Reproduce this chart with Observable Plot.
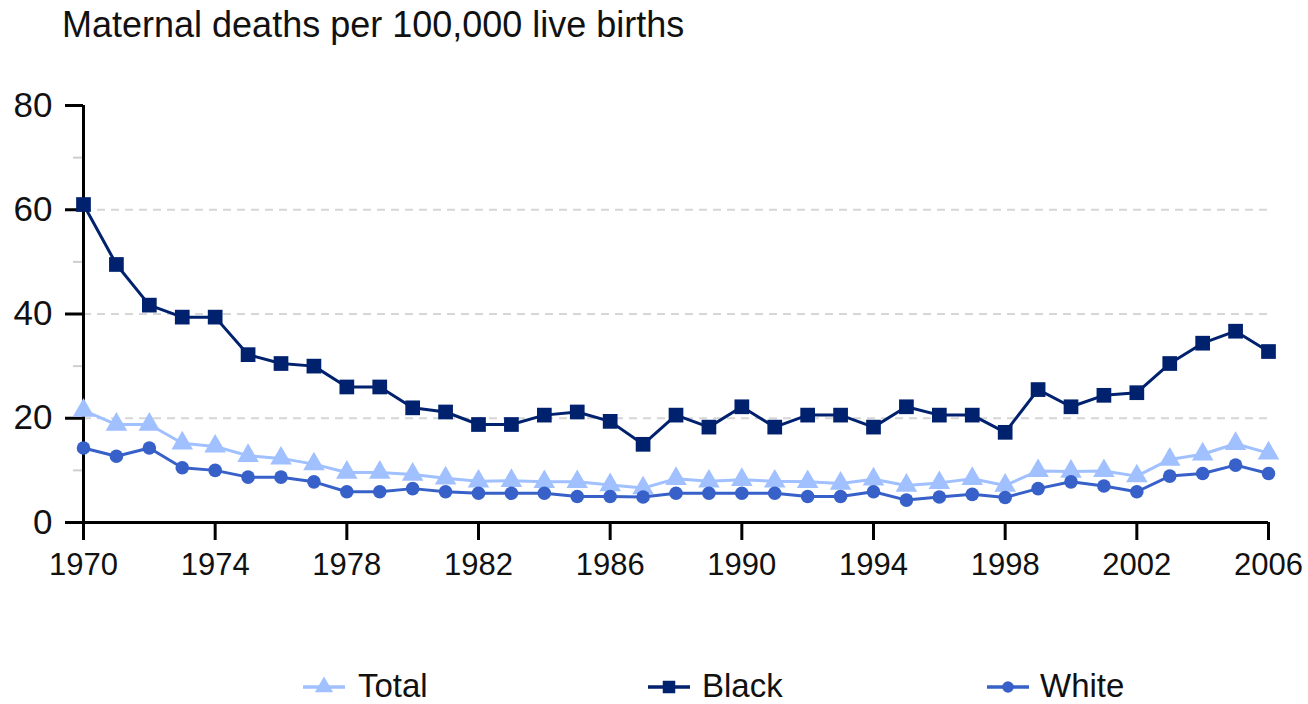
<!DOCTYPE html>
<html>
<head>
<meta charset="utf-8">
<script src="https://cdn.jsdelivr.net/npm/d3@7"></script>
<script src="https://cdn.jsdelivr.net/npm/@observablehq/plot@0.6"></script>
<style>
  html, body { margin: 0; padding: 0; background: #fff; }
  #wrap { position: relative; width: 1308px; height: 704px; overflow: hidden; font-family: "Liberation Sans", Arial, sans-serif; }
  #title { position: absolute; left: 62px; top: 7px; font-size: 36px; line-height: 36px; color: #111; white-space: nowrap; }
  #chart { position: absolute; left: 0; top: 0; }
  .leg { position: absolute; top: 670px; height: 32px; font-size: 33px; line-height: 32px; color: #111; white-space: nowrap; }
  .legsw { position: absolute; top: 671px; }
</style>
</head>
<body>
<div id="wrap">
  <div id="chart"></div>
  <div id="title">Maternal deaths per 100,000 live births</div>
  <div id="legend"></div>
</div>
<script>
const years = [1970,1971,1972,1973,1974,1975,1976,1977,1978,1979,1980,1981,1982,1983,1984,1985,1986,1987,1988,1989,1990,1991,1992,1993,1994,1995,1996,1997,1998,1999,2000,2001,2002,2003,2004,2005,2006];
const totalValues = [21.5,18.8,18.8,15.2,14.6,12.8,12.3,11.2,9.6,9.6,9.2,8.5,7.9,8.0,7.8,7.8,7.2,6.6,8.4,7.9,8.2,7.9,7.8,7.5,8.3,7.1,7.6,8.4,7.1,9.9,9.8,9.9,8.9,12.1,13.1,15.1,13.3];
const blackValues = [61.0,49.5,41.7,39.4,39.4,32.2,30.5,30.0,26.0,26.0,22.0,21.2,18.8,18.8,20.6,21.2,19.4,15.0,20.6,18.3,22.2,18.3,20.6,20.6,18.3,22.2,20.6,20.6,17.3,25.5,22.2,24.4,24.9,30.5,34.4,36.7,32.8];
const whiteValues = [14.3,12.7,14.3,10.5,10.0,8.7,8.7,7.8,5.9,5.9,6.5,5.9,5.6,5.6,5.6,5.0,5.0,4.9,5.6,5.6,5.6,5.6,5.0,5.0,5.9,4.3,4.9,5.4,4.8,6.5,7.8,7.0,5.9,8.9,9.4,11.0,9.4];
const seriesNames = ["Total", "Black", "White"];
const xTicks = [1970,1974,1978,1982,1986,1990,1994,1998,2002,2006];
const yMajorTicks = [0,20,40,60,80];
const yMinorTicks = [10,30,50,70];
const gridValues = [20,40,60];

const colors = { Total: "#a0c0ff", Black: "#00216e", White: "#3761c8" };
const symbols = { Total: "triangle", Black: "square", White: "circle" };
const radii = { Total: 8.0, Black: 8.3, White: 6.8 };

const valuesBySeries = { Total: totalValues, Black: blackValues, White: whiteValues };
const rows = seriesNames.flatMap(s => years.map((yr, i) => ({ series: s, year: yr, value: valuesBySeries[s][i] })));

const seriesMarks = seriesNames.flatMap(s => {
  const d = rows.filter(r => r.series === s);
  return [
    Plot.line(d, { x: "year", y: "value", stroke: colors[s], strokeWidth: 3 }),
    Plot.dot(d, { x: "year", y: "value", fill: colors[s], stroke: "none", symbol: symbols[s], r: radii[s] })
  ];
});

const chart = Plot.plot({
  width: 1308,
  height: 704,
  marginTop: 105,
  marginBottom: 182,
  marginLeft: 83,
  marginRight: 40,
  style: { fontFamily: "'Liberation Sans', Arial, sans-serif", color: "#111", background: "transparent" },
  x: { domain: [1970, 2006], label: null },
  y: { domain: [0, 80], label: null },
  marks: [
    Plot.ruleY(gridValues, { stroke: "#d6d6d6", strokeWidth: 2, strokeDasharray: "8,6" }),
    Plot.axisY({ ticks: yMinorTicks, tickSize: 10, stroke: "#cfcfcf", strokeWidth: 2, tickFormat: () => "", label: null }),
    Plot.axisY({ ticks: yMajorTicks, tickSize: 18, tickPadding: 13, strokeWidth: 3, stroke: "#000", fontSize: 35, fill: "#111", label: null }),
    Plot.axisX({ ticks: xTicks, tickSize: 18, tickPadding: 12, strokeWidth: 3, stroke: "#000", fontSize: 31, fill: "#111", tickFormat: "d", label: null }),
    Plot.ruleX([1970], { y1: 0, y2: 80, stroke: "#000", strokeWidth: 3 }),
    Plot.ruleY([0], { stroke: "#000", strokeWidth: 3 }),
    ...seriesMarks
  ]
});
document.getElementById("chart").appendChild(chart);

// Legend
const legendPos = { Total: { sw: 303, tx: 358 }, Black: { sw: 648, tx: 702 }, White: { sw: 987, tx: 1040 } };
const legend = document.getElementById("legend");
seriesNames.forEach(s => {
  const sw = document.createElementNS("http://www.w3.org/2000/svg", "svg");
  sw.setAttribute("width", 44);
  sw.setAttribute("height", 32);
  sw.setAttribute("class", "legsw");
  sw.style.left = legendPos[s].sw + "px";
  const line = document.createElementNS("http://www.w3.org/2000/svg", "line");
  line.setAttribute("x1", 0); line.setAttribute("x2", 42);
  line.setAttribute("y1", 16); line.setAttribute("y2", 16);
  line.setAttribute("stroke", colors[s]); line.setAttribute("stroke-width", 3.5);
  sw.appendChild(line);
  const symMap = { triangle: d3.symbolTriangle, square: d3.symbolSquare, circle: d3.symbolCircle };
  const r = radii[s] * 0.85;
  const p = document.createElementNS("http://www.w3.org/2000/svg", "path");
  p.setAttribute("d", d3.symbol(symMap[symbols[s]], Math.PI * r * r)());
  p.setAttribute("transform", "translate(21,16)");
  p.setAttribute("fill", colors[s]);
  sw.appendChild(p);
  legend.appendChild(sw);
  const t = document.createElement("div");
  t.className = "leg";
  t.style.left = legendPos[s].tx + "px";
  t.textContent = s;
  legend.appendChild(t);
});
</script>
</body>
</html>
